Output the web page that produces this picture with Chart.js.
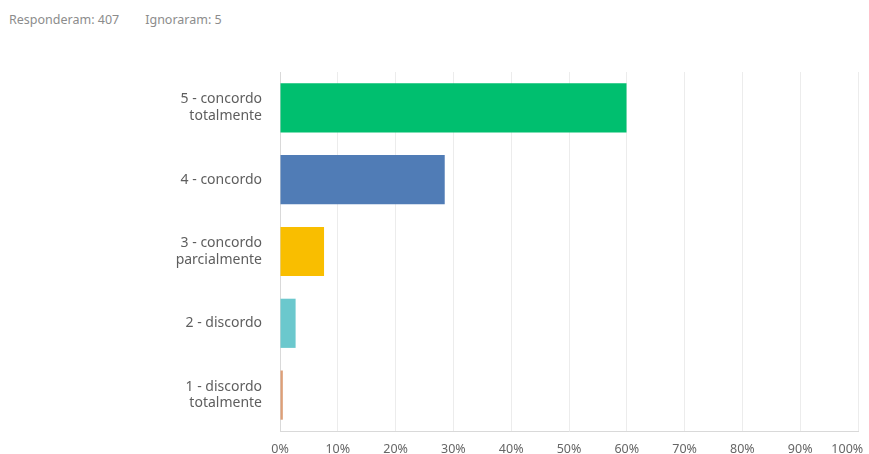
<!DOCTYPE html>
<html>
<head>
<meta charset="utf-8">
<script src="https://cdn.jsdelivr.net/npm/chart.js@4/dist/chart.umd.min.js"></script>
<style>
  html, body { margin: 0; padding: 0; background: #fff; }
  #wrap { position: relative; width: 869px; height: 454px; overflow: hidden; }
  #summary {
    position: absolute; left: 9px; top: 11px;
    font: 12.5px "Noto Sans", sans-serif; color: #8c8c8c;
  }
  #summary span + span { margin-left: 26px; }
  canvas { position: absolute; left: 0; top: 0; }
</style>
</head>
<body>
<div id="wrap">
  <div id="summary"><span>Responderam: 407</span><span>Ignoraram: 5</span></div>
  <canvas id="myChart" width="869" height="454"></canvas>
</div>
<script>
// ---------- data ----------
const answerLabels = [
  ["5 - concordo", "totalmente"],
  "4 - concordo",
  ["3 - concordo", "parcialmente"],
  "2 - discordo",
  ["1 - discordo", "totalmente"]
];
const answerShares = [59.95, 28.50, 7.62, 2.70, 0.49];   // % of respondents
const answerColors = ["#00bf6f", "#507cb6", "#f9be00", "#6bc8cd", "#dd9f78"];
const xTicks = [0, 10, 20, 30, 40, 50, 60, 70, 80, 90, 100];

const FONT = { family: "'Noto Sans', sans-serif", size: 12.5 };

const ctx = document.getElementById("myChart").getContext("2d");
new Chart(ctx, {
  type: "bar",
  data: {
    labels: answerLabels,
    datasets: [{
      data: answerShares,
      backgroundColor: answerColors,
      borderWidth: 0,
      categoryPercentage: 0.685,
      barPercentage: 1.0
    }]
  },
  options: {
    indexAxis: "y",
    responsive: false,
    animation: false,
    layout: { padding: { left: 0, right: 11, top: 72, bottom: 0 } },
    plugins: { legend: { display: false }, tooltip: { enabled: false } },
    scales: {
      x: {
        min: 0, max: 100,
        afterBuildTicks: (s) => { s.ticks = xTicks.map(v => ({ value: v })); },
        afterFit: (s) => { s.height = 23; s.paddingLeft = 0; s.paddingRight = 0; },
        grid: { color: "#ececec", drawTicks: false },
        border: { color: "#d9d9d9" },
        ticks: {
          padding: 11,
          color: "#666",
          font: FONT,
          maxRotation: 0,
          autoSkip: false,
          // keep the last label inside the canvas
          callback: (v) => v === 100 ? "100%\u2007\u2007\u2007" : v + "%"
        }
      },
      y: {
        afterFit: (s) => { s.width = 280; s.paddingTop = 0; s.paddingBottom = 0; },
        grid: { display: false, drawTicks: false },
        border: { color: "#d9d9d9" },
        ticks: {
          padding: 18,
          color: "#5e5e5e",
          font: { family: FONT.family, size: 14, lineHeight: 1.2 }
        }
      }
    }
  }
});
</script>
</body>
</html>
